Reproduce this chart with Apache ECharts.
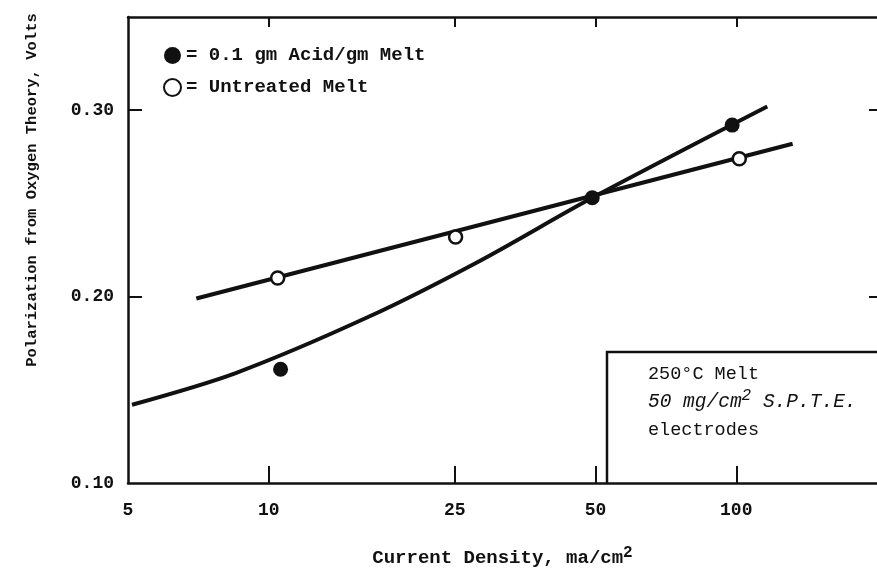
<!DOCTYPE html>
<html>
<head>
<meta charset="utf-8">
<script src="https://cdn.jsdelivr.net/npm/echarts@6/dist/echarts.min.js"></script>
<style>
  html, body { margin: 0; padding: 0; background: #fff; }
  #chart { width: 877px; height: 585px; }
</style>
</head>
<body>
<div id="chart"></div>
<script>
// x ticks / labels (log axis, ma/cm2)
const xTickValues = [10, 25, 50, 100]
const xLabelValues = [5, 10, 25, 50, 100]
const yLabelValues = [0.1, 0.2, 0.3]
const yTickValues = [0.2, 0.3]

// measured points
const acidPoints = [[10.6, 0.161], [49.2, 0.253], [98, 0.292]]
const untreatedPoints = [[10.45, 0.210], [25.1, 0.232], [101.5, 0.274]]

// hand drawn fit lines
const acidCurve = [[5.1, 0.142], [8.5, 0.159], [16.4, 0.1893], [28.2, 0.219], [49.2, 0.253], [116.5, 0.302]]
const untreatedLine = [[7.0, 0.199], [132, 0.282]]

const FONT = 'Liberation Mono'

const chart = echarts.init(document.getElementById('chart'))

const option = {
  animation: false,
  backgroundColor: '#fff',
  grid: { left: 128, right: 0, top: 17, bottom: 102 },
  legend: {
    data: ['0.1 gm Acid/gm Melt', 'Untreated Melt'],
    orient: 'vertical',
    left: 158,
    top: 41,
    itemWidth: 17,
    itemHeight: 17,
    itemGap: 13,
    icon: 'circle',
    formatter: '= {name}',
    textStyle: { fontFamily: FONT, fontSize: 19, fontWeight: 'bold', color: '#111' }
  },
  xAxis: [{
    type: 'log',
    logBase: 10,
    min: 5,
    max: 200,
    name: 'Current Density, ma/cm{sup|2}',
    nameLocation: 'middle',
    nameGap: 62,
    nameTextStyle: {
      fontFamily: FONT, fontSize: 19, fontWeight: 'bold', color: '#111',
      rich: { sup: { fontFamily: FONT, fontSize: 16, fontWeight: 'bold', verticalAlign: 'top', padding: [0, 0, 10, 0] } }
    },
    axisLine: { lineStyle: { color: '#111', width: 2.5 } },
    axisTick: { inside: true, length: 17, customValues: xTickValues, lineStyle: { color: '#111', width: 2 } },
    axisLabel: { customValues: xLabelValues, margin: 18, fontFamily: FONT, fontSize: 18, fontWeight: 'bold', color: '#111' },
    splitLine: { show: false }
  }, {
    type: 'log',
    logBase: 10,
    min: 5,
    max: 200,
    position: 'top',
    axisLine: { lineStyle: { color: '#111', width: 2.5 } },
    axisTick: { inside: true, length: 10, customValues: xTickValues, lineStyle: { color: '#111', width: 2 } },
    axisLabel: { show: false },
    splitLine: { show: false }
  }],
  yAxis: [{
    type: 'value',
    min: 0.1,
    max: 0.35,
    interval: 0.1,
    name: 'Polarization from Oxygen Theory, Volts',
    nameLocation: 'middle',
    nameGap: 88,
    nameRotate: 90,
    nameTextStyle: { fontFamily: FONT, fontSize: 15.5, fontWeight: 'bold', color: '#111', padding: [0, 0, 0, 120] },
    axisLine: { lineStyle: { color: '#111', width: 2.5 } },
    axisTick: { inside: true, length: 14, customValues: yTickValues, lineStyle: { color: '#111', width: 2 } },
    axisLabel: {
      customValues: yLabelValues, margin: 14,
      formatter: v => v.toFixed(2),
      fontFamily: FONT, fontSize: 18, fontWeight: 'bold', color: '#111'
    },
    splitLine: { show: false }
  }, {
    type: 'value',
    min: 0.1,
    max: 0.35,
    interval: 0.1,
    position: 'right',
    axisLine: { show: false },
    axisTick: { inside: true, length: 8, customValues: yTickValues, lineStyle: { color: '#111', width: 2 } },
    axisLabel: { show: false },
    splitLine: { show: false }
  }],
  series: [
    {
      type: 'line',
      data: acidCurve,
      smooth: 0.3,
      showSymbol: false,
      lineStyle: { color: '#111', width: 4 },
      silent: true,
      z: 2
    },
    {
      type: 'line',
      data: untreatedLine,
      showSymbol: false,
      lineStyle: { color: '#111', width: 4 },
      silent: true,
      z: 2
    },
    {
      name: '0.1 gm Acid/gm Melt',
      type: 'scatter',
      data: acidPoints,
      symbol: 'circle',
      symbolSize: 15,
      itemStyle: { color: '#111', opacity: 1 },
      z: 3
    },
    {
      name: 'Untreated Melt',
      type: 'scatter',
      data: untreatedPoints,
      symbol: 'circle',
      symbolSize: 13,
      itemStyle: { color: '#fff', borderColor: '#111', borderWidth: 2.5, opacity: 1 },
      z: 3
    }
  ],
  graphic: [
    {
      type: 'polyline',
      shape: { points: [[607, 484], [607, 352], [880, 352]] },
      style: { stroke: '#111', lineWidth: 2.5, fill: null }
    },
    {
      type: 'text',
      left: 648,
      top: 360,
      style: {
        text: '250°C Melt\n{i|50 mg/cm}{sup|2}{i| S.P.T.E.}\nelectrodes',
        fontFamily: FONT,
        fontSize: 18.5,
        lineHeight: 28,
        fill: '#111',
        rich: {
          i: { fontFamily: FONT, fontSize: 19.5, fontStyle: 'italic', lineHeight: 28 },
          sup: { fontFamily: FONT, fontSize: 16, fontStyle: 'italic', verticalAlign: 'top', lineHeight: 28, padding: [0, 0, 8, 0] }
        }
      }
    }
  ]
}

chart.setOption(option)
</script>
</body>
</html>
